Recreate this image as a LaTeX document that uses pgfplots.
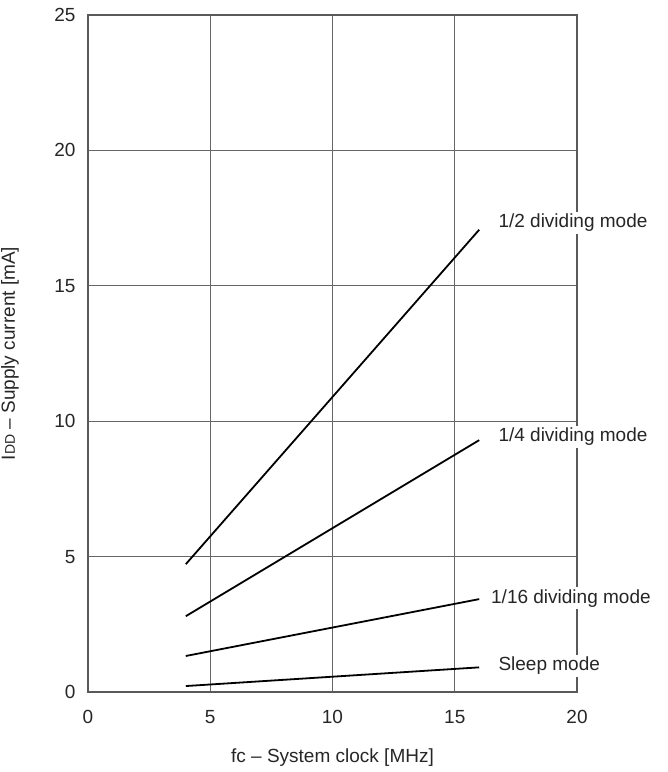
\documentclass[border=0pt]{standalone}
\usepackage{fontspec}
\setmainfont{Liberation Sans}
\usepackage{pgfplots}
\pgfplotsset{compat=1.18}
\begin{document}
\begin{tikzpicture}[font=\fontsize{19bp}{23bp}\selectfont]
\begin{axis}[
  scale only axis, width=489bp, height=677bp,
  xmin=0, xmax=20, ymin=0, ymax=25,
  xtick={0,5,10,15,20}, ytick={0,5,10,15,20,25},
  grid=major,
  major grid style={draw=black!60, line width=0.9bp},
  axis line style={draw=black!65, line width=1.4bp},
  tick style={draw=none},
  /pgf/number format/assume math mode=true,
  tick label style={font=\fontsize{19bp}{23bp}\selectfont, text=black!85},
  xticklabel style={yshift=-15bp},
  yticklabel style={xshift=-9bp},
  clip=false,
  xlabel={fc -- System clock [MHz]},
  ylabel={I{\fontsize{14bp}{14bp}\selectfont DD} -- Supply current [mA]},
  xlabel style={at={(axis description cs:0.5,-0.097)}, anchor=center, text=black!85},
  ylabel style={at={(axis description cs:-0.1595,0.5)}, anchor=center, rotate=0, text=black!85},
]
\coordinate (ll) at (rel axis cs:0,0);
\coordinate (ur) at (rel axis cs:1,1);
\addplot[black, line width=1.8bp] coordinates {(4,4.72) (16,17.07)};
\addplot[black, line width=1.8bp] coordinates {(4,2.8) (16,9.3)};
\addplot[black, line width=1.8bp] coordinates {(4,1.33) (16,3.43)};
\addplot[black, line width=1.8bp] coordinates {(4,0.22) (16,0.91)};
\node[anchor=west, fill=white, inner sep=2bp, text=black!85] at (axis cs:16.7,17.33) {1/2 dividing mode};
\node[anchor=west, fill=white, inner sep=2bp, text=black!85] at (axis cs:16.7,9.42) {1/4 dividing mode};
\node[anchor=west, fill=white, inner sep=2bp, text=black!85] at (axis cs:16.4,3.46) {1/16 dividing mode};
\node[anchor=west, fill=white, inner sep=2bp, text=black!85] at (axis cs:16.7,0.96) {Sleep mode};
\end{axis}
\pgfresetboundingbox
\path ([shift={(-88bp,-80bp)}]ll) rectangle ([shift={(91bp,15bp)}]ur);
\end{tikzpicture}
\end{document}
